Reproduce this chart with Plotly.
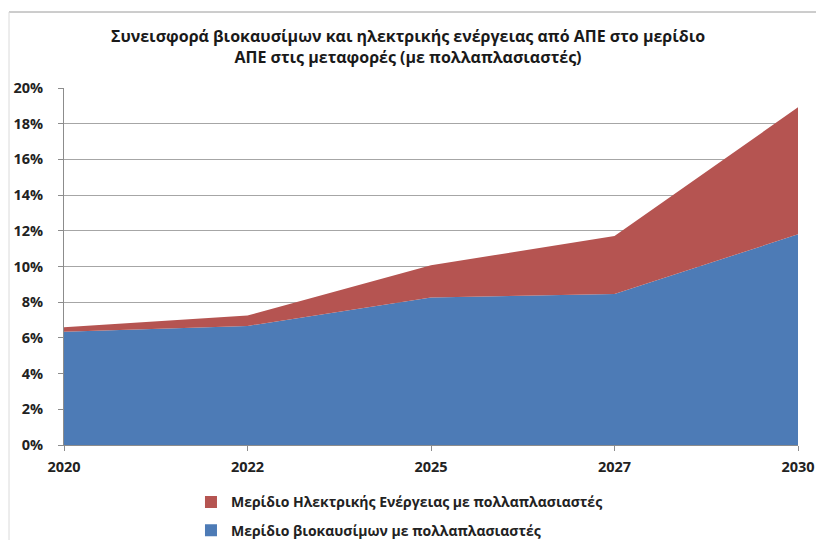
import plotly.graph_objects as go

years = ["2020", "2022", "2025", "2027", "2030"]
biofuel_share = [6.35, 6.67, 8.27, 8.46, 11.80]
electricity_share = [0.24, 0.58, 1.80, 3.25, 7.12]
y_ticks = [0, 2, 4, 6, 8, 10, 12, 14, 16, 18, 20]
y_tick_labels = [f"{v}%" for v in y_ticks]

title_text = ("Συνεισφορά βιοκαυσίμων και ηλεκτρικής ενέργειας από ΑΠΕ στο μερίδιο<br>"
              "ΑΠΕ στις μεταφορές (με πολλαπλασιαστές)")
name_bio = "Μερίδιο βιοκαυσίμων με πολλαπλασιαστές"
name_el = "Μερίδιο Ηλεκτρικής Ενέργειας με πολλαπλασιαστές"

BLUE = "#4D7BB6"
RED = "#B55451"
FONT = "Open Sans"

fig = go.Figure()
fig.add_trace(go.Scatter(x=years, y=biofuel_share, name=name_bio, mode="lines",
                         stackgroup="one", line=dict(width=0, color=BLUE),
                         fillcolor=BLUE, hoverinfo="skip", showlegend=False))
fig.add_trace(go.Scatter(x=years, y=electricity_share, name=name_el, mode="lines",
                         stackgroup="one", line=dict(width=0, color=RED),
                         fillcolor=RED, hoverinfo="skip", showlegend=False))
# legend entries with square swatches
fig.add_trace(go.Scatter(x=[None], y=[None], name=name_el, mode="markers",
                         legendgroup="el",
                         marker=dict(symbol="square", size=11, color=RED)))
fig.add_trace(go.Scatter(x=[None], y=[None], name=name_bio, mode="markers",
                         legendgroup="bio",
                         marker=dict(symbol="square", size=11, color=BLUE)))

fig.update_layout(
    width=816, height=540,
    margin=dict(l=64, r=18, t=88, b=95, autoexpand=False),
    paper_bgcolor="white", plot_bgcolor="white",
    title=dict(text=title_text, x=0.5, xanchor="center", y=0.9226, yanchor="top",
               font=dict(family=FONT, size=16, color="#1a1a1a", weight="bold")),
    showlegend=True,
    legend=dict(orientation="v", x=0.173, xanchor="left", y=-0.116, yanchor="top",
                traceorder="grouped",
                font=dict(family=FONT, size=14, color="#222", weight="bold"),
                itemwidth=30, tracegroupgap=7, bgcolor="rgba(0,0,0,0)",
                itemsizing="constant"),
    xaxis=dict(type="category", range=[0, 4], showgrid=False, showline=True,
               linecolor="#8C8C8C", linewidth=1, ticks="outside", ticklen=5,
               tickcolor="#8C8C8C", ticklabelstandoff=4, automargin=False,
               tickfont=dict(family=FONT, size=14.5, color="#222", weight="bold"),
               zeroline=False),
    yaxis=dict(range=[0, 20], tickvals=y_ticks, ticktext=y_tick_labels,
               showgrid=True, gridcolor="#A6A6A6", gridwidth=1,
               showline=True, linecolor="#8C8C8C", linewidth=1,
               ticks="outside", ticklen=5, tickcolor="#8C8C8C",
               ticklabelstandoff=12, automargin=False,
               tickfont=dict(family=FONT, size=14.5, color="#222", weight="bold"),
               zeroline=False),
)

# Chart frame (top and left border)
fig.add_shape(type="line", xref="paper", yref="paper",
              x0=-55/734, x1=1 + 18/734, y0=1 + 76/357, y1=1 + 76/357,
              line=dict(color="#9A9A9A", width=1))
fig.add_shape(type="line", xref="paper", yref="paper",
              x0=-55/734, x1=-55/734, y0=1 + 76/357, y1=-95/357,
              line=dict(color="#DADADA", width=1))

fig.write_html("out.html", config={"displayModeBar": False},
               post_script="document.body.style.margin='0px';document.body.style.padding='0px';")
